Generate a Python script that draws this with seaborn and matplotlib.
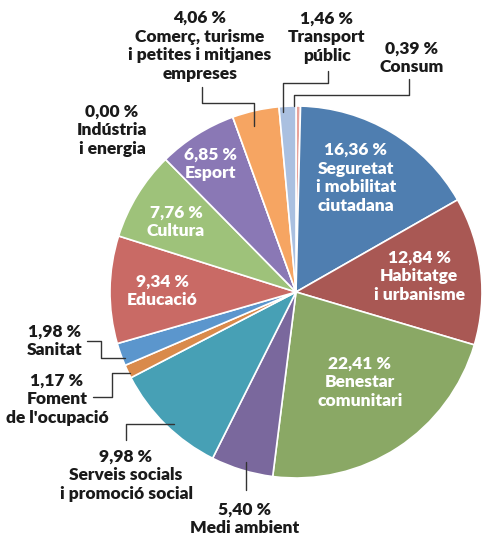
import matplotlib
matplotlib.use("Agg")
import matplotlib.pyplot as plt
import seaborn as sns

# %% DATA ────────────────────────────────────────────────────────────────
# clockwise from 12 o'clock
areas = ["Consum", "Seguretat i mobilitat ciutadana", "Habitatge i urbanisme",
         "Benestar comunitari", "Medi ambient", "Serveis socials i promoció social",
         "Foment de l'ocupació", "Sanitat", "Educació", "Cultura", "Esport",
         "Indústria i energia", "Comerç, turisme i petites i mitjanes empreses",
         "Transport públic"]
shares = [0.39, 16.36, 12.84, 22.41, 5.40, 9.98, 1.17, 1.98, 9.34, 7.76, 6.85,
          0.00, 4.06, 1.46]
label_text = ["Consum", "Seguretat\ni mobilitat\nciutadana", "Habitatge\ni urbanisme",
              "Benestar\ncomunitari", "Medi ambient", "Serveis socials\ni promoció social",
              "Foment\nde l'ocupació", "Sanitat", "Educació", "Cultura", "Esport",
              "Indústria\ni energia", "Comerç, turisme\ni petites i mitjanes\nempreses",
              "Transport\npúblic"]
colors = ["#e8a39b", "#4f7eb0", "#a95854", "#8aa865", "#7a689d", "#47a0b5",
          "#d98a4b", "#5b96cd", "#c96a65", "#9ec27a", "#8a78b5", "#888888",
          "#f6a562", "#aac0e0"]

# %% LAYOUT (pixel coords, y measured from the top) ───────────────────────
W, H = 482, 537
def py(y): return H - y

CENTER, RADIUS = (296, py(292)), 186
inside = {1: (356, 178), 2: (419, 276), 3: (360, 382), 8: (162, 291),
          9: (176, 222), 10: (211, 164)}
outside = {0: (412, 58), 4: (245, 519), 5: (126, 475), 6: (57, 399),
           7: (55, 341), 11: (112, 130), 12: (200, 46), 13: (327, 37)}
leaders = {0: [(294, 106), (294, 95), (409, 95), (409, 79)],
           13: [(283, 112), (283, 83), (328, 83), (328, 71)],
           12: [(254, 126), (254, 103), (202, 103), (202, 87)],
           7: [(87, 341), (101, 341), (101, 358), (125, 358)],
           6: [(93, 397), (112, 397), (112, 373), (130, 373)],
           5: [(126, 440), (126, 424), (174, 424)],
           4: [(246, 462), (246, 490)]}

# %% PLOT ────────────────────────────────────────────────────────────────
sns.set_theme(style="white")
plt.rcParams['font.family'] = ['Lato', 'DejaVu Sans']

fig = plt.figure(figsize=(W / 100, H / 100), dpi=100)
ax = fig.add_axes([0, 0, 1, 1])

ax.pie(shares, colors=colors, startangle=90, counterclock=False,
       center=CENTER, radius=RADIUS, frame=True,
       wedgeprops=dict(edgecolor="white", linewidth=1.2))
ax.set_xlim(0, W); ax.set_ylim(0, H)
ax.set_aspect("equal"); ax.axis("off")

def pct(v): return f"{v:.2f}".replace(".", ",") + " %"

for i, (x, y) in inside.items():
    ax.text(x, py(y), pct(shares[i]) + "\n" + label_text[i], color="white",
            fontsize=12.5, fontweight="heavy", ha="center", va="center",
            linespacing=1.2)
for i, (x, y) in outside.items():
    ax.text(x, py(y), pct(shares[i]) + "\n" + label_text[i], color="#1a1a1a",
            fontsize=12.5, fontweight="heavy", ha="center", va="center",
            linespacing=1.2)
for i, pts in leaders.items():
    ax.plot([p[0] for p in pts], [py(p[1]) for p in pts], color="#333333", lw=1)

fig.savefig("out.png", dpi=100)
